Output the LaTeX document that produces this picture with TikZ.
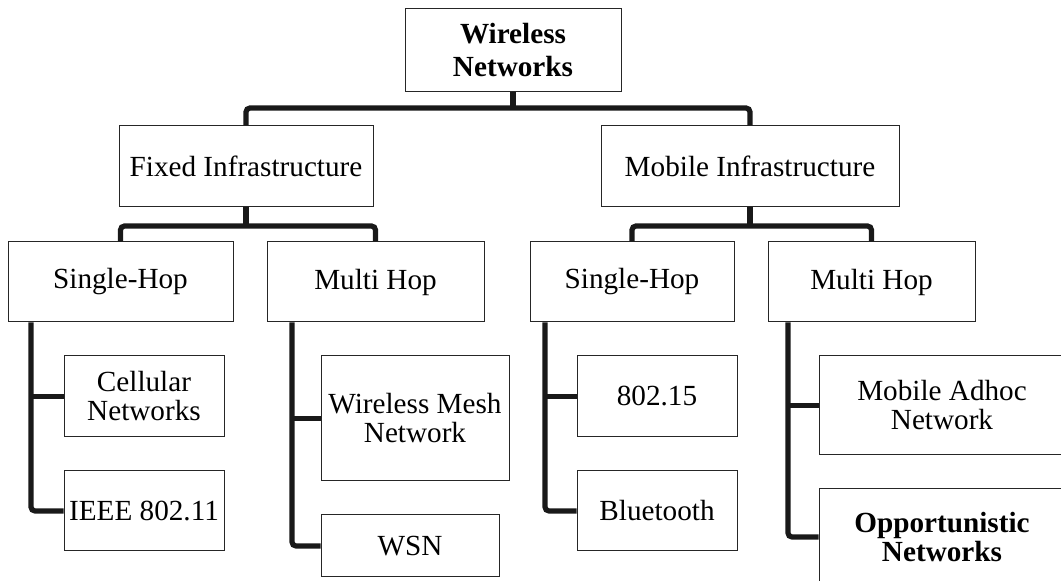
\documentclass[tikz,border=0pt]{standalone}
\usepackage{fontspec}
\setmainfont{Liberation Serif}
\begin{document}
\begin{tikzpicture}[x=0.5pt,y=-0.5pt]
    \tikzstyle{box}=[draw=black!85, line width=0.5pt, align=center, inner sep=0pt, font=\fontsize{14.6}{14.5}\selectfont]
    \tikzstyle{link}=[line width=2.6pt, black!90, rounded corners=2pt]
    \useasboundingbox (0,0) rectangle (1061,581);
    % top level
    \node[box, minimum width=108pt, minimum height=41.5pt, font=\bfseries\fontsize{14.6}{16.5}\selectfont] (root) at (513,50.5) {Wireless\\Networks};
    \node[box, minimum width=127pt, minimum height=40.5pt] (fixed) at (246,166.5) {Fixed Infrastructure};
    \node[box, minimum width=149pt, minimum height=40.5pt] (mobile) at (750,166.5) {Mobile Infrastructure};
    % hop types
    \node[box, minimum width=112.5pt, minimum height=40pt] (fsingle) at (120.5,282) {Single-Hop};
    \node[box, minimum width=108.5pt, minimum height=40pt] (fmulti) at (375.5,282) {Multi Hop};
    \node[box, minimum width=102pt, minimum height=40pt] (msingle) at (632,282) {Single-Hop};
    \node[box, minimum width=103.5pt, minimum height=40pt] (mmulti) at (871.5,282) {Multi Hop};
    % leaves
    \node[box, minimum width=80pt, minimum height=40.5pt] (cell) at (144,396.5) {Cellular\\Networks};
    \node[box, minimum width=80pt, minimum height=40pt] (ieee) at (144,511) {IEEE 802.11};
    \node[box, minimum width=94pt, minimum height=62.5pt] (mesh) at (415,418.5) {Wireless Mesh\\Network};
    \node[box, minimum width=89pt, minimum height=31pt] (wsn) at (410,546) {WSN};
    \node[box, minimum width=80pt, minimum height=40.5pt] (pan) at (657,396.5) {802.15};
    \node[box, minimum width=80pt, minimum height=40pt] (bt) at (657,511) {Bluetooth};
    \node[box, minimum width=123pt, minimum height=49.5pt] (manet) at (942,405.5) {Mobile Adhoc\\Network};
    \node[box, minimum width=123pt, minimum height=48pt, font=\bfseries\fontsize{14.6}{14.5}\selectfont] (opp) at (942,537) {Opportunistic\\Networks};
    % bars and stems
    \coordinate (bar0) at (513,108);
    \coordinate (barF) at (246,226);
    \coordinate (barM) at (750,226);
    \coordinate (s1) at (31,0);
    \coordinate (s2) at (292,0);
    \coordinate (s3) at (545,0);
    \coordinate (s4) at (788,0);
    \draw[link] (root) -- (bar0);
    \draw[link] (fixed) |- (bar0) -| (mobile);
    \draw[link] (fixed) -- (barF);
    \draw[link] (fsingle) |- (barF) -| (fmulti);
    \draw[link] (mobile) -- (barM);
    \draw[link] (msingle) |- (barM) -| (mmulti);
    \draw[link] (fsingle.south -| s1) |- (ieee);
    \draw[link] (cell.west) -- (cell.west -| s1);
    \draw[link] (fmulti.south -| s2) |- (wsn);
    \draw[link] (mesh.west) -- (mesh.west -| s2);
    \draw[link] (msingle.south -| s3) |- (bt);
    \draw[link] (pan.west) -- (pan.west -| s3);
    \draw[link] (mmulti.south -| s4) |- (opp);
    \draw[link] (manet.west) -- (manet.west -| s4);
\end{tikzpicture}
\end{document}
